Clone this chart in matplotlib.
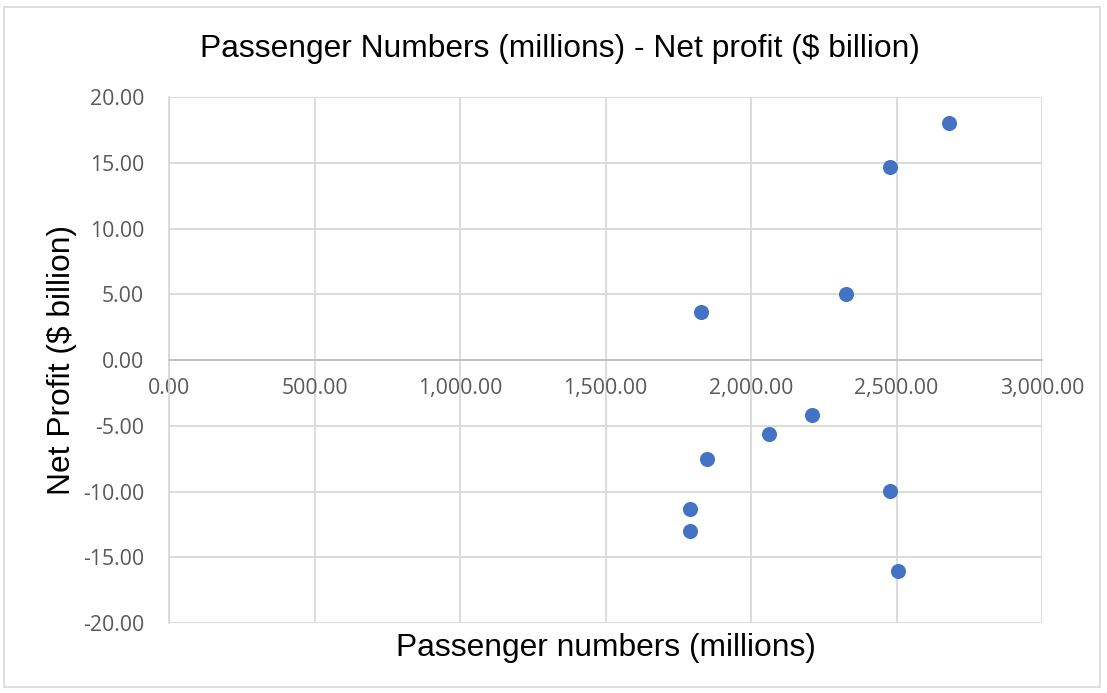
import matplotlib.pyplot as plt
from matplotlib.patches import Rectangle
from matplotlib.ticker import FuncFormatter

# passenger numbers (millions) and net profit ($ billion)
passengers = [2680, 2478, 2326, 1827, 2210, 2063, 1849, 2478, 1791, 1791, 2506]
net_profit = [18.02, 14.70, 5.00, 3.70, -4.15, -5.60, -7.50, -9.95, -11.30, -13.00, -16.05]

x_ticks = [0, 500, 1000, 1500, 2000, 2500, 3000]
y_ticks = [-20, -15, -10, -5, 0, 5, 10, 15, 20]

plt.rcParams['font.family'] = ['Liberation Sans', 'DejaVu Sans']

fig = plt.figure(figsize=(11.07, 6.93), dpi=100)
ax = fig.add_axes([0.1527, 0.101, 0.7886, 0.7586])

# outer chart border
fig.patches.append(Rectangle((0.004, 0.008), 0.99, 0.982, transform=fig.transFigure,
                             fill=False, edgecolor='#d9d9d9', linewidth=1.2))

ax.scatter(passengers, net_profit, s=118, color='#4472C4', zorder=3, linewidths=0)

ax.set_xlim(0, 3000)
ax.set_ylim(-20, 20)
ax.set_xticks(x_ticks)
ax.set_yticks(y_ticks)
ax.xaxis.set_major_formatter(FuncFormatter(lambda v, p: f"{v:,.2f}"))
ax.yaxis.set_major_formatter(FuncFormatter(lambda v, p: f"{v:.2f}"))
ax.grid(True, color='#d9d9d9', linewidth=1.3)
ax.set_axisbelow(True)

for side in ['top', 'right']:
    ax.spines[side].set_visible(False)
ax.spines['bottom'].set_position(('data', 0))
ax.spines['bottom'].set_color('#bfbfbf')
ax.spines['bottom'].set_linewidth(1.3)
ax.spines['left'].set_color('#d9d9d9')
ax.spines['left'].set_linewidth(1.3)

ax.tick_params(axis='both', length=0, labelsize=15.3, labelcolor='#595959')
ax.tick_params(axis='x', pad=13)
ax.tick_params(axis='y', pad=18)
for lbl in ax.get_xticklabels() + ax.get_yticklabels():
    lbl.set_family('Open Sans')

fig.text(0.506, 0.930, "Passenger Numbers (millions) - Net profit ($ billion)",
         ha='center', va='center', fontsize=22.9)
fig.text(0.547, 0.065, "Passenger numbers (millions)", ha='center', va='center', fontsize=22.9)
fig.text(0.056, 0.480, "Net Profit ($ billion)", ha='center', va='center',
         rotation=90, fontsize=22.9)

plt.savefig("out.png", dpi=100)
